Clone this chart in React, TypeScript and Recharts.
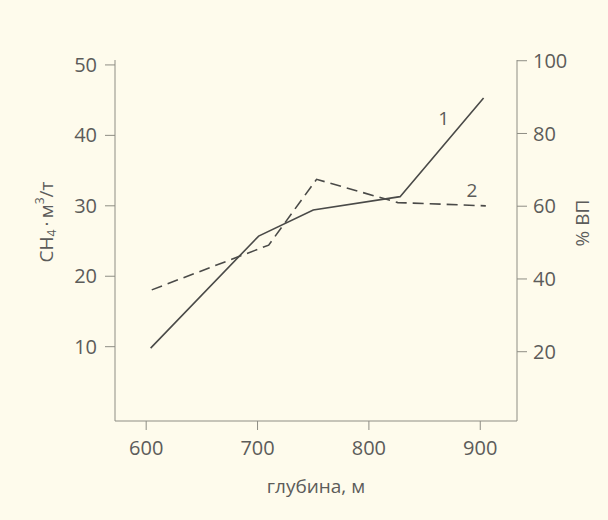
import { LineChart, Line, XAxis, YAxis, Label } from "recharts"

// глубина, м
const depthCh4 = [604, 701, 750, 828, 903]
const ch4 = [9.8, 25.7, 29.4, 31.3, 45.3]
const depthVp = [605, 710, 753, 826, 905]
const vp = [37, 49.3, 67.4, 61, 60.1]

const xTicks = [600, 700, 800, 900]
const leftTicks = [10, 20, 30, 40, 50]
const rightTicks = [20, 40, 60, 80, 100]

const ch4Data = depthCh4.map((d, i) => ({ depth: d, ch4: ch4[i] }))
const vpData = depthVp.map((d, i) => ({ depth: d, vp: vp[i] }))

const BG = "#fefbec"
const INK = "#4a4a48"
const AXIS = "#8e8d84"
const TEXT = "#5c5c5a"
const FONT = "'Open Sans', sans-serif"

const tickStyle = { fill: TEXT, fontSize: 20, fontFamily: FONT }

function endLabel(text: string, dx: number, dy: number, count: number) {
  return (props: any) => {
    if (props.index !== count - 1) return null
    return (
      <text
        x={props.x + dx}
        y={props.y + dy}
        textAnchor="middle"
        dominantBaseline="central"
        fill={TEXT}
        fontSize={19}
        fontFamily={FONT}
      >
        {text}
      </text>
    )
  }
}

export default function App() {
  return (
    <div style={{ position: "fixed", left: 0, top: 0, width: 608, height: 520, background: BG }}>
      <LineChart
        width={608}
        height={520}
        margin={{ top: 60, right: 0, bottom: 0, left: 0 }}
        style={{ fontFamily: FONT }}
      >
        <XAxis
          dataKey="depth"
          type="number"
          domain={[572, 933]}
          ticks={xTicks}
          allowDataOverflow
          height={99}
          tickSize={9}
          tickMargin={11}
          tick={tickStyle}
          stroke={AXIS}
          tickLine={{ stroke: AXIS }}
        >
          <Label
            content={(p: any) => (
              <text
                x={p.viewBox.x + p.viewBox.width / 2}
                y={486}
                textAnchor="middle"
                dominantBaseline="central"
                fill={TEXT}
                fontSize={19}
                fontFamily={FONT}
              >
                глубина, м
              </text>
            )}
          />
        </XAxis>
        <YAxis
          yAxisId="left"
          orientation="left"
          domain={[-0.55, 50.7]}
          ticks={leftTicks}
          allowDataOverflow
          width={115}
          tickSize={10}
          tickMargin={8}
          tick={tickStyle}
          stroke={AXIS}
        >
          <Label
            content={() => (
              <text
                x={46}
                y={222}
                transform="rotate(-90 46 222)"
                textAnchor="middle"
                dominantBaseline="central"
                fill={TEXT}
                fontSize={19}
                fontFamily={FONT}
              >
                <tspan>CH</tspan>
                <tspan fontSize={12} dy={5}>4</tspan>
                <tspan dy={-5}>{"\u2009·\u2009м"}</tspan>
                <tspan fontSize={12} dy={-7}>3</tspan>
                <tspan dy={7}>/т</tspan>
              </text>
            )}
          />
        </YAxis>
        <YAxis
          yAxisId="right"
          orientation="right"
          domain={[0.95, 100.2]}
          ticks={rightTicks}
          allowDataOverflow
          width={91}
          tickSize={10}
          tickMargin={6}
          tick={tickStyle}
          stroke={AXIS}
        >
          <Label
            content={() => (
              <text
                x={582}
                y={223}
                transform="rotate(-90 582 223)"
                textAnchor="middle"
                dominantBaseline="central"
                fill={TEXT}
                fontSize={19}
                fontFamily={FONT}
              >
                % ВП
              </text>
            )}
          />
        </YAxis>
        <Line
          yAxisId="left"
          data={ch4Data}
          dataKey="ch4"
          type="linear"
          stroke={INK}
          strokeWidth={1.6}
          dot={false}
          isAnimationActive={false}
          label={endLabel("1", -40, 20, ch4Data.length)}
        />
        <Line
          yAxisId="right"
          data={vpData}
          dataKey="vp"
          type="linear"
          stroke={INK}
          strokeWidth={1.6}
          strokeDasharray="11 6"
          dot={false}
          isAnimationActive={false}
          label={endLabel("2", -14, -16, vpData.length)}
        />
      </LineChart>
    </div>
  )
}
